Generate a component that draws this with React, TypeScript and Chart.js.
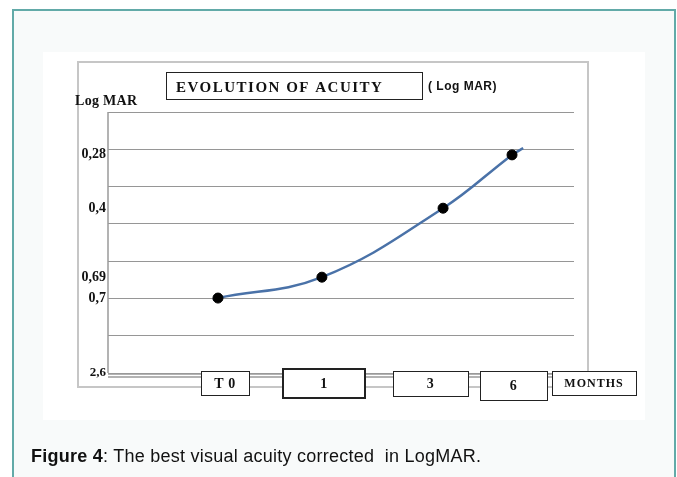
import React, { useEffect, useRef } from "react";
import { Chart, registerables } from "chart.js";

Chart.register(...registerables);

// ---- data ----
const categories = ["T 0", "1", "3", "6"];
const xUnitLabel = "MONTHS";
const xPos = [23.6, 45.9, 71.9, 86.7];
const yPos = [2.01, 2.57, 4.42, 5.85];
const leadIn = [22.5, 1.96];
const tailOut = [89.1, 6.03];
const yTickPos = [0, 2.01, 2.57, 4.42, 5.85];
const yTickLabels = ["2,6", "0,7", "0,69", "0,4", "0,28"];
const chartTitle = "EVOLUTION OF ACUITY";
const titleSuffix = "( Log MAR)";
const yAxisTitle = "Log MAR";

// box geometry for the category labels (layout only)
const catBoxes = [
  { l: 201, t: 371, r: 249, b: 395, w: 1 },
  { l: 283, t: 369, r: 365, b: 398, w: 2 },
  { l: 393, t: 371, r: 468, b: 396, w: 1 },
  { l: 480, t: 371, r: 547, b: 400, w: 1 },
];
const unitBox = { l: 552, t: 371, r: 636, b: 395, w: 1 };

const decorPlugin = {
  id: "decor",
  beforeDraw(chart: any) {
    const ctx = chart.ctx as CanvasRenderingContext2D;
    ctx.save();
    ctx.fillStyle = "#ffffff";
    ctx.fillRect(0, 0, chart.width, chart.height);
    // teal frame
    ctx.fillStyle = "#f8fafa";
    ctx.fillRect(13, 10, 662, 480);
    ctx.strokeStyle = "#62aaa8";
    ctx.lineWidth = 2;
    ctx.strokeRect(13, 10, 662, 480);
    // white panel
    ctx.fillStyle = "#ffffff";
    ctx.fillRect(43, 52, 602, 368);
    // gray chart box
    ctx.strokeStyle = "#c6c6c6";
    ctx.lineWidth = 2;
    ctx.strokeRect(78, 62, 510, 325);
    ctx.restore();
  },
  afterDatasetsDraw(chart: any) {
    const ctx = chart.ctx as CanvasRenderingContext2D;
    const a = chart.chartArea;
    ctx.save();
    // left border and bottom line of plot
    ctx.strokeStyle = "#9a9a9a";
    ctx.lineWidth = 1.5;
    ctx.beginPath();
    ctx.moveTo(a.left, a.top);
    ctx.lineTo(a.left, a.bottom);
    ctx.stroke();
    ctx.beginPath();
    ctx.moveTo(a.left, a.bottom + 1);
    ctx.lineTo(588, a.bottom + 1);
    ctx.stroke();
    ctx.beginPath();
    ctx.moveTo(a.left, a.bottom + 4);
    ctx.lineTo(588, a.bottom + 4);
    ctx.stroke();

    // y axis title
    ctx.fillStyle = "#111";
    ctx.textBaseline = "alphabetic";
    ctx.textAlign = "left";
    ctx.font = "bold 14px 'Liberation Serif'";
    (ctx as any).letterSpacing = "0.3px";
    ctx.fillText(yAxisTitle, 75, 105);

    // title suffix
    ctx.font = "bold 12px 'Liberation Sans'";
    (ctx as any).letterSpacing = "0.5px";
    ctx.fillText(titleSuffix, 428, 90);

    // title box
    ctx.fillStyle = "#fff";
    ctx.fillRect(166, 72, 256, 27);
    ctx.strokeStyle = "#222";
    ctx.lineWidth = 1;
    ctx.strokeRect(166.5, 72.5, 256, 27);
    ctx.fillStyle = "#111";
    ctx.font = "bold 15px 'Liberation Serif'";
    (ctx as any).letterSpacing = "1.5px";
    ctx.fillText(chartTitle, 176, 92);

    // category boxes
    const drawBox = (bx: any, text: string, font: string, ls: string) => {
      ctx.fillStyle = "#fff";
      ctx.fillRect(bx.l, bx.t, bx.r - bx.l, bx.b - bx.t);
      ctx.strokeStyle = "#222";
      ctx.lineWidth = bx.w;
      const o = bx.w === 1 ? 0.5 : 0;
      ctx.strokeRect(bx.l + o, bx.t + o, bx.r - bx.l, bx.b - bx.t);
      ctx.fillStyle = "#111";
      ctx.font = font;
      (ctx as any).letterSpacing = ls;
      ctx.textAlign = "center";
      ctx.textBaseline = "middle";
      ctx.fillText(text, (bx.l + bx.r) / 2, (bx.t + bx.b) / 2 + 1);
    };
    categories.forEach((c, i) =>
      drawBox(catBoxes[i], c, "bold 14px 'Liberation Serif'", "0.5px")
    );
    drawBox(unitBox, xUnitLabel, "bold 12px 'Liberation Serif'", "1px");
    ctx.restore();
  },
};

export default function App() {
  const ref = useRef<HTMLCanvasElement | null>(null);

  useEffect(() => {
    if (!ref.current) return;
    const pts = xPos.map((x, i) => ({ x, y: yPos[i] }));
    const data = [
      { x: leadIn[0], y: leadIn[1] },
      ...pts,
      { x: tailOut[0], y: tailOut[1] },
    ];
    const radii = data.map((_, i) => (i === 0 || i === data.length - 1 ? 0 : 5));
    const chart = new Chart(ref.current, {
      type: "line",
      data: {
        datasets: [
          {
            data,
            borderColor: "#4a72a8",
            borderWidth: 2.5,
            tension: 0.4,
            pointRadius: radii,
            pointHoverRadius: radii,
            pointBackgroundColor: "#000",
            pointBorderColor: "#000",
            pointBorderWidth: 1,
            fill: false,
          },
        ],
      },
      options: {
        responsive: false,
        animation: false,
        devicePixelRatio: 1,
        layout: { padding: { left: 0, top: 112, right: 103, bottom: 104 } },
        plugins: {
          legend: { display: false },
          tooltip: { enabled: false },
          title: { display: false },
        },
        scales: {
          x: { type: "linear", min: 0, max: 100, display: false },
          y: {
            type: "linear",
            position: "right",
            min: 0,
            max: 7,
            ticks: { display: false, stepSize: 1 },
            grid: { color: "#969696", lineWidth: 1, drawTicks: false },
            border: { display: false },
            afterFit: (s: any) => {
              s.width = 0;
            },
          },
          yl: {
            type: "linear",
            position: "left",
            min: 0,
            max: 7,
            grid: { display: false, drawTicks: false },
            border: { display: false },
            afterBuildTicks: (s: any) => {
              s.ticks = yTickPos.map((v) => ({ value: v }));
            },
            ticks: {
              callback: (_v: any, i: number) => yTickLabels[i],
              padding: 2,
              color: "#111",
              autoSkip: false,
              font: (c: any) => ({
                family: "'Liberation Serif'",
                weight: "bold",
                size: c.index === 0 ? 13 : 14,
              }),
            },
            afterFit: (s: any) => {
              s.width = 108;
            },
          },
        },
      },
      plugins: [decorPlugin],
    });
    return () => chart.destroy();
  }, []);

  return (
    <div style={{ position: "absolute", left: 0, top: 0, width: 677, height: 477 }}>
      <canvas ref={ref} width={677} height={477} style={{ width: 677, height: 477, display: "block" }} />
      <div
        style={{
          position: "absolute",
          left: 31,
          top: 446,
          fontFamily: "'Liberation Sans', Arial, sans-serif",
          fontSize: 18,
          letterSpacing: "0.25px",
          lineHeight: "20px",
          color: "#111",
          whiteSpace: "pre",
        }}
      >
        <b>Figure 4</b>: The best visual acuity corrected  in LogMAR.
      </div>
    </div>
  );
}
